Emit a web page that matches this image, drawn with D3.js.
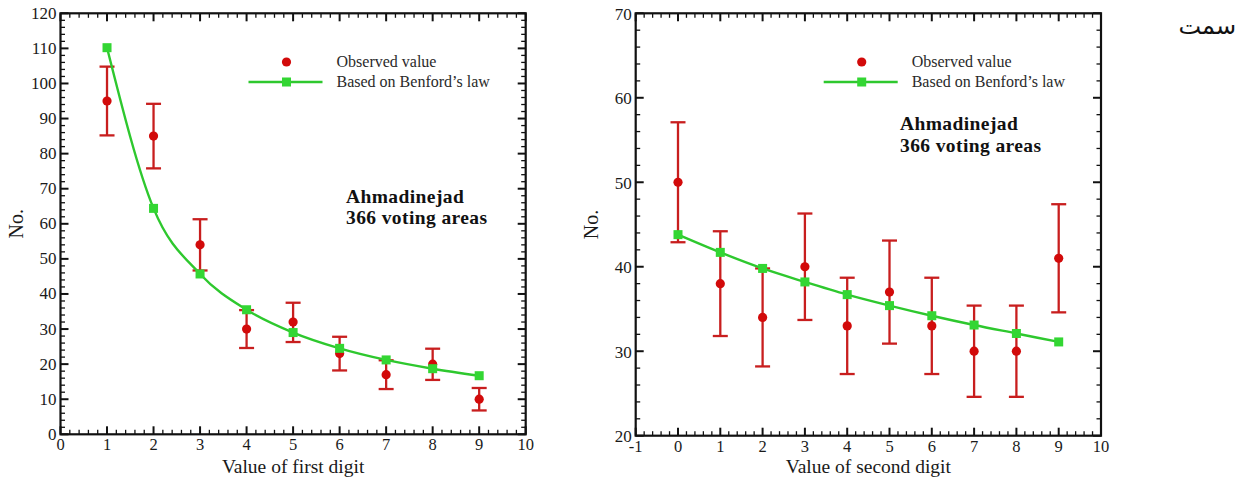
<!DOCTYPE html>
<html>
<head>
<meta charset="utf-8">
<script src="https://cdn.jsdelivr.net/npm/d3@7"></script>
<style>
  html, body { margin: 0; padding: 0; background: #fff; }
  svg { display: block; }
</style>
</head>
<body>
<svg id="chart" width="1247" height="479"></svg>
<script>
// ---------- data ----------
const firstDigits = [1, 2, 3, 4, 5, 6, 7, 8, 9];
const firstObserved = [95, 85, 54, 30, 32, 23, 17, 20, 10];
const firstErrHigh = [104.8, 94.2, 61.3, 35.4, 37.5, 27.8, 21.1, 24.4, 13.2];
const firstErrLow = [85.2, 75.8, 46.7, 24.6, 26.3, 18.2, 12.9, 15.5, 6.8];
const firstBenford = [110.2, 64.4, 45.7, 35.5, 29.0, 24.5, 21.2, 18.7, 16.7];
const firstXTicks = [0, 1, 2, 3, 4, 5, 6, 7, 8, 9, 10];
const firstYTicks = [0, 10, 20, 30, 40, 50, 60, 70, 80, 90, 100, 110, 120];

const secondDigits = [0, 1, 2, 3, 4, 5, 6, 7, 8, 9];
const secondObserved = [50, 38, 34, 40, 33, 37, 33, 30, 30, 41];
const secondErrHigh = [57.1, 44.2, 39.8, 46.3, 38.7, 43.1, 38.7, 35.4, 35.4, 47.4];
const secondErrLow = [42.9, 31.8, 28.2, 33.7, 27.3, 30.9, 27.3, 24.6, 24.6, 34.6];
const secondBenford = [43.8, 41.7, 39.8, 38.2, 36.7, 35.4, 34.2, 33.1, 32.1, 31.1];
const secondXTicks = [-1, 0, 1, 2, 3, 4, 5, 6, 7, 8, 9, 10];
const secondYTicks = [20, 30, 40, 50, 60, 70];

const legendLabels = ["Observed value", "Based on Benford\u2019s law"];
const annotationLines = ["Ahmadinejad", "366 voting areas"];
const yTitle = "No.";
const xTitles = ["Value of first digit", "Value of second digit"];
const cornerText = "\u0633\u0645\u062a";

// ---------- style ----------
const RED = "#d20a0a";
const RED_BAR = "#c81e1e";
const GREEN_LINE = "#2ec82e";
const GREEN_SQ = "#33d633";
const TEXT = "#1a1a1a";
const SERIF = "'Liberation Serif', 'Times New Roman', serif";

const svg = d3.select("#chart");

function drawPanel(p) {
  const g = svg.append("g");
  const x = d3.scaleLinear().domain(p.xDomain).range([p.left, p.right]);
  const y = d3.scaleLinear().domain(p.yDomain).range([p.bottom, p.top]);

  const xMinor = d3.range(p.xDomain[0], p.xDomain[1] + 1e-9, 0.2).filter(v => Math.abs(v - Math.round(v)) > 1e-6);
  const yMinor = d3.range(p.yDomain[0], p.yDomain[1] + 1e-9, 2).filter(v => Math.abs(v / 10 - Math.round(v / 10)) > 1e-6);

  const ticks = g.append("g").attr("stroke", "#111");
  const MAJ = 8, MIN = 4.5;
  p.xTicks.forEach(v => {
    ticks.append("line").attr("x1", x(v)).attr("x2", x(v)).attr("y1", p.bottom).attr("y2", p.bottom - MAJ).attr("stroke-width", 2);
    ticks.append("line").attr("x1", x(v)).attr("x2", x(v)).attr("y1", p.top).attr("y2", p.top + MAJ).attr("stroke-width", 2);
  });
  xMinor.forEach(v => {
    ticks.append("line").attr("x1", x(v)).attr("x2", x(v)).attr("y1", p.bottom).attr("y2", p.bottom - MIN).attr("stroke-width", 1.3);
    ticks.append("line").attr("x1", x(v)).attr("x2", x(v)).attr("y1", p.top).attr("y2", p.top + MIN).attr("stroke-width", 1.3);
  });
  p.yTicks.forEach(v => {
    ticks.append("line").attr("y1", y(v)).attr("y2", y(v)).attr("x1", p.left).attr("x2", p.left + MAJ).attr("stroke-width", 2);
    ticks.append("line").attr("y1", y(v)).attr("y2", y(v)).attr("x1", p.right).attr("x2", p.right - MAJ).attr("stroke-width", 2);
  });
  yMinor.forEach(v => {
    ticks.append("line").attr("y1", y(v)).attr("y2", y(v)).attr("x1", p.left).attr("x2", p.left + MIN).attr("stroke-width", 1.3);
    ticks.append("line").attr("y1", y(v)).attr("y2", y(v)).attr("x1", p.right).attr("x2", p.right - MIN).attr("stroke-width", 1.3);
  });

  g.append("rect").attr("x", p.left).attr("y", p.top)
    .attr("width", p.right - p.left).attr("height", p.bottom - p.top)
    .attr("fill", "none").attr("stroke", "#111").attr("stroke-width", 2.2);

  // tick labels
  g.append("g").selectAll("text").data(p.xTicks).join("text")
    .attr("x", d => x(d)).attr("y", p.bottom + p.xLabelOff)
    .attr("text-anchor", "middle").attr("font-family", SERIF).attr("font-size", 16.5).attr("fill", TEXT)
    .text(d => d);
  g.append("g").selectAll("text").data(p.yTicks).join("text")
    .attr("x", p.left - 4).attr("y", d => y(d) + 5.5 + p.yLabelShift)
    .attr("text-anchor", "end").attr("font-family", SERIF).attr("font-size", 17).attr("fill", TEXT)
    .text(d => d);

  // axis titles
  g.append("text").attr("x", (p.left + p.right) / 2).attr("y", 472.5)
    .attr("text-anchor", "middle").attr("font-family", SERIF).attr("font-size", 19.5).attr("fill", TEXT)
    .text(p.xTitle);
  g.append("text").attr("transform", `translate(${p.yTitleX},${(p.top + p.bottom) / 2}) rotate(-90)`)
    .attr("text-anchor", "middle").attr("font-family", SERIF).attr("font-size", 20).attr("fill", TEXT)
    .text(yTitle);

  // error bars
  const obs = p.xs.map((d, i) => ({ x: d, v: p.obs[i], lo: p.lo[i], hi: p.hi[i] }));
  const eb = g.append("g").attr("stroke", RED_BAR).attr("stroke-width", 2.3);
  obs.forEach(d => {
    eb.append("line").attr("x1", x(d.x)).attr("x2", x(d.x)).attr("y1", y(d.lo)).attr("y2", y(d.hi));
    eb.append("line").attr("x1", x(d.x) - 7.5).attr("x2", x(d.x) + 7.5).attr("y1", y(d.lo)).attr("y2", y(d.lo));
    eb.append("line").attr("x1", x(d.x) - 7.5).attr("x2", x(d.x) + 7.5).attr("y1", y(d.hi)).attr("y2", y(d.hi));
  });
  g.append("g").selectAll("circle").data(obs).join("circle")
    .attr("cx", d => x(d.x)).attr("cy", d => y(d.v)).attr("r", 4.6).attr("fill", RED);

  // Benford line
  const ben = p.xs.map((d, i) => ({ x: d, v: p.ben[i] }));
  g.append("path").datum(ben)
    .attr("d", d3.line().x(d => x(d.x)).y(d => y(d.v)).curve(d3.curveMonotoneX))
    .attr("fill", "none").attr("stroke", GREEN_LINE).attr("stroke-width", 2.4);
  const S = 9;
  g.append("g").selectAll("rect").data(ben).join("rect")
    .attr("x", d => x(d.x) - S / 2).attr("y", d => y(d.v) - S / 2)
    .attr("width", S).attr("height", S).attr("fill", GREEN_SQ);

  // legend
  const lx = p.left + 226;
  g.append("circle").attr("cx", lx).attr("cy", 62).attr("r", 4.6).attr("fill", RED);
  g.append("line").attr("x1", lx - 38).attr("x2", lx + 36).attr("y1", 82).attr("y2", 82)
    .attr("stroke", GREEN_LINE).attr("stroke-width", 2.4);
  g.append("rect").attr("x", lx - S / 2).attr("y", 82 - S / 2).attr("width", S).attr("height", S).attr("fill", GREEN_SQ);
  g.append("g").selectAll("text").data(legendLabels).join("text")
    .attr("x", lx + 50).attr("y", (d, i) => 66.5 + i * 20)
    .attr("font-family", SERIF).attr("font-size", 16).attr("fill", "#2a2a2a")
    .text(d => d);

  // annotation
  g.append("g").selectAll("text").data(annotationLines).join("text")
    .attr("x", p.annX).attr("y", (d, i) => p.annY + i * 21.8)
    .attr("font-family", SERIF).attr("font-size", 19.5).attr("font-weight", "bold").attr("fill", "#111")
    .attr("letter-spacing", 0.4)
    .text(d => d);
}

drawPanel({
  left: 60.5, right: 525.7, top: 13.3, bottom: 434.3,
  xDomain: [0, 10], yDomain: [0, 120],
  xTicks: firstXTicks, yTicks: firstYTicks,
  xs: firstDigits, obs: firstObserved, lo: firstErrLow, hi: firstErrHigh, ben: firstBenford,
  xTitle: xTitles[0], yTitleX: 23, xLabelOff: 16, yLabelShift: 0,
  annX: 346, annY: 202.5
});

drawPanel({
  left: 635.7, right: 1101, top: 13.3, bottom: 435.7,
  xDomain: [-1, 10], yDomain: [20, 70],
  xTicks: secondXTicks, yTicks: secondYTicks,
  xs: secondDigits, obs: secondObserved, lo: secondErrLow, hi: secondErrHigh, ben: secondBenford,
  xTitle: xTitles[1], yTitleX: 598, xLabelOff: 16.5, yLabelShift: 1,
  annX: 900, annY: 130
});

svg.append("text").attr("x", 1236).attr("y", 34)
  .attr("text-anchor", "end").attr("font-family", "'DejaVu Sans', 'Noto Sans', sans-serif")
  .attr("font-size", 24).attr("fill", "#111")
  .text(cornerText);
</script>
</body>
</html>
